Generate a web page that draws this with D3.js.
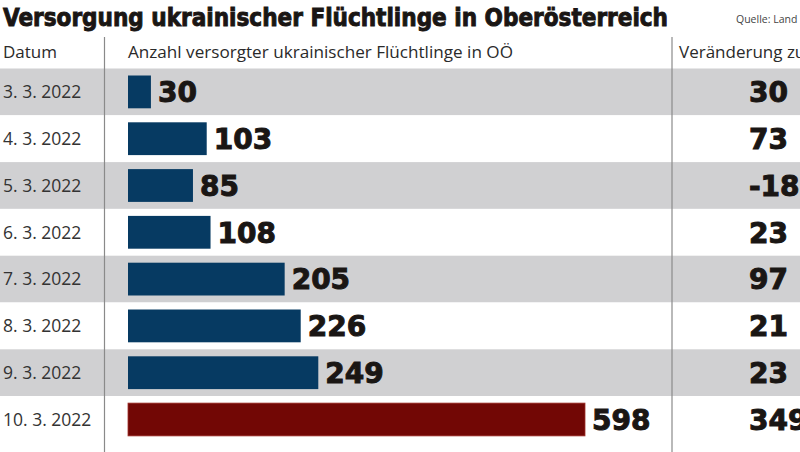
<!DOCTYPE html>
<html>
<head>
<meta charset="utf-8">
<script src="https://cdn.jsdelivr.net/npm/d3@7"></script>
<style>
html,body{margin:0;padding:0;background:#fff;overflow:hidden;}
svg{display:block;}
</style>
</head>
<body>
<svg id="chart" width="800" height="452"></svg>
<script>
const dates = ["3. 3. 2022","4. 3. 2022","5. 3. 2022","6. 3. 2022","7. 3. 2022","8. 3. 2022","9. 3. 2022","10. 3. 2022"];
const counts = [30,103,85,108,205,226,249,598];
const changes = [30,73,-18,23,97,21,23,349];
const title = "Versorgung ukrainischer Flüchtlinge in Oberösterreich";
const source = "Quelle: Land OÖ";
const headers = ["Datum","Anzahl versorgter ukrainischer Flüchtlinge in OÖ","Veränderung zum Vortag"];

const svg = d3.select("#chart");
const W = 800, H = 452;
const sansFont = "'Open Sans', 'Noto Sans', sans-serif";
const numFont = "'DejaVu Sans', sans-serif";

const y = d3.scaleBand().domain(dates).range([68.5, 68.5 + 46.8*dates.length]).paddingInner(0).paddingOuter(0);
const x = d3.scaleLinear().domain([0, 598]).range([128, 585]);

// row bands
svg.selectAll("rect.band").data(dates).enter().append("rect")
  .attr("class","band")
  .attr("x",0).attr("width",W)
  .attr("y",d=>y(d)).attr("height",y.bandwidth())
  .attr("fill",(d,i)=> i%2===0 ? "#d0d0d2" : "#ffffff");

// separators
[104.5, 672].forEach(sx=>{
  svg.append("line").attr("x1",sx).attr("x2",sx).attr("y1",37).attr("y2",H)
    .attr("stroke","#8a8a8a").attr("stroke-width",1.2);
});

// title
svg.append("text").attr("x",3).attr("y",26)
  .attr("font-family","'DejaVu Sans Condensed', 'DejaVu Sans', sans-serif")
  .attr("font-weight","bold").attr("font-size",25)
  .attr("textLength",665).attr("lengthAdjust","spacingAndGlyphs")
  .attr("fill","#1a1614").attr("stroke","#1a1614").attr("stroke-width",0.9)
  .text(title);

svg.append("text").attr("x",736).attr("y",23)
  .attr("font-family",sansFont).attr("font-size",10.5)
  .attr("fill","#444").text(source);

// headers
const hx = [3,128,679];
const hl = [54,385,null];
headers.forEach((h,i)=>{
  const t = svg.append("text").attr("x",hx[i]).attr("y",58)
    .attr("font-family",sansFont).attr("font-size",17)
    .attr("fill","#2a2a2a").text(h);
  if(hl[i]) t.attr("textLength",hl[i]).attr("lengthAdjust","spacingAndGlyphs");
});

// date labels
svg.selectAll("text.date").data(dates).enter().append("text")
  .attr("class","date")
  .attr("x",3).attr("y",d=>y(d)+y.bandwidth()/2)
  .attr("dy","0.36em")
  .attr("font-family",sansFont).attr("font-size",17.5)
  .attr("fill","#333").text(d=>d);

// bars
const barPad = 7;
svg.selectAll("rect.bar").data(counts).enter().append("rect")
  .attr("class","bar")
  .attr("x",x(0))
  .attr("y",(d,i)=>y(dates[i])+barPad)
  .attr("height",y.bandwidth()-2*barPad)
  .attr("width",d=>x(d)-x(0))
  .attr("fill",(d,i)=> i===counts.length-1 ? "#720705" : "#063a62")
  .attr("stroke",(d,i)=> i===counts.length-1 ? "#a0302a" : "none")
  .attr("stroke-width",0.8);

// value labels
svg.selectAll("text.val").data(counts).enter().append("text")
  .attr("class","val")
  .attr("x",d=>x(d)+7)
  .attr("y",(d,i)=>y(dates[i])+y.bandwidth()/2)
  .attr("dy","0.37em")
  .attr("font-family",numFont).attr("font-weight","bold").attr("font-size",28)
  .attr("fill","#1a1614").attr("stroke","#1a1614").attr("stroke-width",1)
  .text(d=>d);

// change column
svg.selectAll("text.chg").data(changes).enter().append("text")
  .attr("class","chg")
  .attr("x",749)
  .attr("y",(d,i)=>y(dates[i])+y.bandwidth()/2)
  .attr("dy","0.37em")
  .attr("font-family",numFont).attr("font-weight","bold").attr("font-size",28)
  .attr("fill","#1a1614").attr("stroke","#1a1614").attr("stroke-width",1)
  .text(d=>d);
</script>
</body>
</html>
